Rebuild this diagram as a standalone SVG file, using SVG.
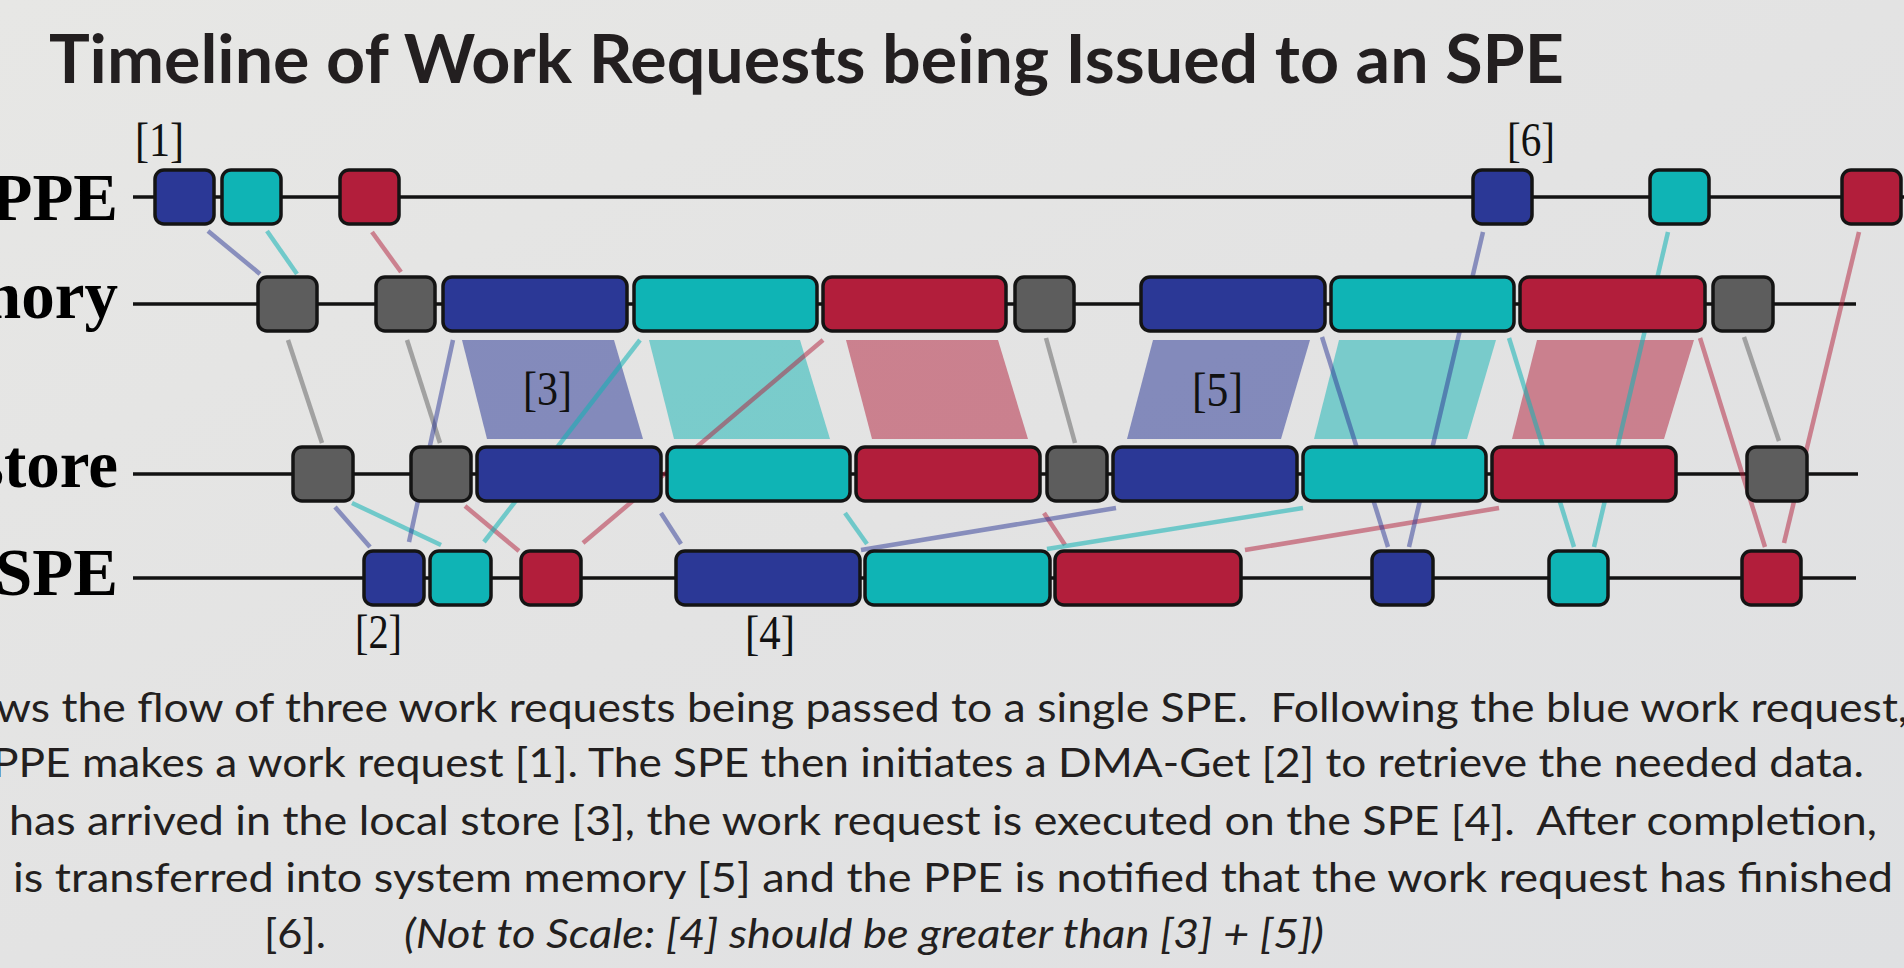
<svg xmlns="http://www.w3.org/2000/svg" width="1904" height="968" viewBox="0 0 1904 968">
<defs>
<linearGradient id="bg" x1="0" y1="0" x2="1" y2="1">
<stop offset="0" stop-color="#e7e7e5"/>
<stop offset="0.5" stop-color="#e3e3e3"/>
<stop offset="1" stop-color="#dfe0e2"/>
</linearGradient>
</defs>
<style>
.row{stroke:#121212;stroke-width:3.5;fill:none}
.bx{stroke:#141414;stroke-width:3.5}
.b{fill:#2b3896}.c{fill:#0fb4b5}.r{fill:#b21e3b}.g{fill:#5d5d5d}
.pb{fill:#2b3896;opacity:.52}.pc{fill:#10b3b4;opacity:.5}.pr{fill:#b11e3a;opacity:.5}
.lb{stroke:#2b3896;stroke-opacity:.5;stroke-width:4.5}
.lc{stroke:#10b3b4;stroke-opacity:.55;stroke-width:4.5}
.lr{stroke:#b11e3a;stroke-opacity:.5;stroke-width:4.5}
.lg{stroke:#5d5d5d;stroke-opacity:.5;stroke-width:4.5}
.rl{font-family:"Liberation Serif","Times New Roman",serif;font-weight:700;font-size:67px;fill:#000;text-anchor:end}
.nl{font-family:"Liberation Serif","Times New Roman",serif;font-size:48px;fill:#111}
.para{font-family:Lato,"Open Sans",sans-serif;font-size:40px;fill:#231f20;white-space:pre}
</style>
<rect x="0" y="0" width="1904" height="968" fill="url(#bg)"/>
<text x="49" y="83" font-family="Lato,'Open Sans',sans-serif" font-weight="700" font-size="67" fill="#231f20" textLength="1515" lengthAdjust="spacingAndGlyphs">Timeline of Work Requests being Issued to an SPE</text>

<g id="row-labels">
<text class="rl" x="118" y="220">PPE</text>
<text class="rl" x="118" y="318">mory</text>
<text class="rl" x="118" y="487">store</text>
<text class="rl" x="118" y="595">SPE</text>
</g>

<g id="timelines">
<line class="row" x1="133" y1="197" x2="1904" y2="197"/>
<line class="row" x1="133" y1="304" x2="1856" y2="304"/>
<line class="row" x1="133" y1="474" x2="1858" y2="474"/>
<line class="row" x1="133" y1="578" x2="1856" y2="578"/>
</g>

<g id="transfers">
<polygon class="pb" points="462,340 614,340 643,439 487,439"/>
<polygon class="pc" points="649,340 800,340 830,439 674,439"/>
<polygon class="pr" points="846,340 998,340 1028,439 872,439"/>
<polygon class="pb" points="1153,340 1310,340 1281,439 1127,439"/>
<polygon class="pc" points="1339,340 1496,340 1467,439 1314,439"/>
<polygon class="pr" points="1537,340 1694,340 1664,439 1512,439"/>
</g>

<g id="connectors">
<line class="lb" x1="208" y1="231" x2="260" y2="274"/>
<line class="lc" x1="267" y1="231" x2="297" y2="274"/>
<line class="lr" x1="372" y1="232" x2="401" y2="272"/>
<line class="lg" x1="288" y1="340" x2="322" y2="443"/>
<line class="lg" x1="407" y1="340" x2="440" y2="443"/>
<line class="lg" x1="1046" y1="338" x2="1075" y2="443"/>
<line class="lg" x1="1744" y1="337" x2="1779" y2="441"/>
<line class="lb" x1="335" y1="507" x2="370" y2="547"/>
<line class="lc" x1="352" y1="503" x2="441" y2="545"/>
<line class="lr" x1="465" y1="506" x2="519" y2="551"/>
<line class="lb" x1="661" y1="513" x2="681" y2="544"/>
<line class="lc" x1="845" y1="513" x2="867" y2="544"/>
<line class="lr" x1="1044" y1="513" x2="1065" y2="545"/>
<line class="lb" x1="409" y1="542" x2="453" y2="340"/>
<line class="lc" x1="484" y1="542" x2="640" y2="340"/>
<line class="lr" x1="583" y1="543" x2="823" y2="340"/>
<line class="lb" x1="861" y1="550" x2="1116" y2="508"/>
<line class="lc" x1="1047" y1="549" x2="1303" y2="508"/>
<line class="lr" x1="1245" y1="550" x2="1499" y2="508"/>
<line class="lb" x1="1322" y1="337" x2="1388" y2="547"/>
<line class="lc" x1="1509" y1="338" x2="1574" y2="547"/>
<line class="lr" x1="1700" y1="338" x2="1765" y2="547"/>
<line class="lb" x1="1483" y1="232" x2="1409" y2="547"/>
<line class="lc" x1="1668" y1="232" x2="1594" y2="547"/>
<line class="lr" x1="1859" y1="232" x2="1784" y2="543"/>
</g>

<g id="ppe-blue-1"><rect class="bx b" x="155" y="170" width="59" height="54" rx="9"/></g>
<g id="ppe-cyan-1"><rect class="bx c" x="222" y="170" width="59" height="54" rx="9"/></g>
<g id="ppe-red-1"><rect class="bx r" x="340" y="170" width="59" height="54" rx="9"/></g>
<g id="ppe-blue-2"><rect class="bx b" x="1473" y="170" width="59" height="54" rx="9"/></g>
<g id="ppe-cyan-2"><rect class="bx c" x="1650" y="170" width="59" height="54" rx="9"/></g>
<g id="ppe-red-2"><rect class="bx r" x="1842" y="170" width="59" height="54" rx="9"/></g>

<g id="mem-gray-1"><rect class="bx g" x="258" y="277" width="59" height="54" rx="9"/></g>
<g id="mem-gray-2"><rect class="bx g" x="376" y="277" width="59" height="54" rx="9"/></g>
<g id="mem-blue-1"><rect class="bx b" x="443" y="277" width="184" height="54" rx="9"/></g>
<g id="mem-cyan-1"><rect class="bx c" x="634" y="277" width="183" height="54" rx="9"/></g>
<g id="mem-red-1"><rect class="bx r" x="823" y="277" width="183" height="54" rx="9"/></g>
<g id="mem-gray-3"><rect class="bx g" x="1015" y="277" width="59" height="54" rx="9"/></g>
<g id="mem-blue-2"><rect class="bx b" x="1141" y="277" width="184" height="54" rx="9"/></g>
<g id="mem-cyan-2"><rect class="bx c" x="1331" y="277" width="183" height="54" rx="9"/></g>
<g id="mem-red-2"><rect class="bx r" x="1520" y="277" width="185" height="54" rx="9"/></g>
<g id="mem-gray-4"><rect class="bx g" x="1713" y="277" width="60" height="54" rx="9"/></g>

<g id="ls-gray-1"><rect class="bx g" x="293" y="447" width="60" height="54" rx="9"/></g>
<g id="ls-gray-2"><rect class="bx g" x="411" y="447" width="60" height="54" rx="9"/></g>
<g id="ls-blue-1"><rect class="bx b" x="477" y="447" width="184" height="54" rx="9"/></g>
<g id="ls-cyan-1"><rect class="bx c" x="667" y="447" width="183" height="54" rx="9"/></g>
<g id="ls-red-1"><rect class="bx r" x="856" y="447" width="184" height="54" rx="9"/></g>
<g id="ls-gray-3"><rect class="bx g" x="1047" y="447" width="60" height="54" rx="9"/></g>
<g id="ls-blue-2"><rect class="bx b" x="1113" y="447" width="184" height="54" rx="9"/></g>
<g id="ls-cyan-2"><rect class="bx c" x="1303" y="447" width="183" height="54" rx="9"/></g>
<g id="ls-red-2"><rect class="bx r" x="1492" y="447" width="184" height="54" rx="9"/></g>
<g id="ls-gray-4"><rect class="bx g" x="1747" y="447" width="60" height="54" rx="9"/></g>

<g id="spe-blue-1"><rect class="bx b" x="364" y="551" width="60" height="54" rx="9"/></g>
<g id="spe-cyan-1"><rect class="bx c" x="430" y="551" width="61" height="54" rx="9"/></g>
<g id="spe-red-1"><rect class="bx r" x="521" y="551" width="60" height="54" rx="9"/></g>
<g id="spe-blue-2"><rect class="bx b" x="676" y="551" width="184" height="54" rx="9"/></g>
<g id="spe-cyan-2"><rect class="bx c" x="865" y="551" width="185" height="54" rx="9"/></g>
<g id="spe-red-2"><rect class="bx r" x="1055" y="551" width="186" height="54" rx="9"/></g>
<g id="spe-blue-3"><rect class="bx b" x="1372" y="551" width="61" height="54" rx="9"/></g>
<g id="spe-cyan-3"><rect class="bx c" x="1549" y="551" width="59" height="54" rx="9"/></g>
<g id="spe-red-3"><rect class="bx r" x="1742" y="551" width="59" height="54" rx="9"/></g>

<g id="step-labels">
<text class="nl" x="135" y="156" textLength="49" lengthAdjust="spacingAndGlyphs">[1]</text>
<text class="nl" x="355" y="648" textLength="47" lengthAdjust="spacingAndGlyphs">[2]</text>
<text class="nl" x="523" y="405" textLength="49" lengthAdjust="spacingAndGlyphs">[3]</text>
<text class="nl" x="745" y="649" textLength="50" lengthAdjust="spacingAndGlyphs">[4]</text>
<text class="nl" x="1192" y="406" textLength="51" lengthAdjust="spacingAndGlyphs">[5]</text>
<text class="nl" x="1507" y="156" textLength="48" lengthAdjust="spacingAndGlyphs">[6]</text>
</g>

<g id="caption">
<text class="para" x="-4" y="722" textLength="1912" lengthAdjust="spacingAndGlyphs">ws the flow of three work requests being passed to a single SPE.  Following the blue work request,</text>
<text class="para" x="-8" y="777" textLength="1872" lengthAdjust="spacingAndGlyphs">PPE makes a work request [1]. The SPE then initiates a DMA-Get [2] to retrieve the needed data.</text>
<text class="para" x="9" y="835" textLength="1868" lengthAdjust="spacingAndGlyphs">has arrived in the local store [3], the work request is executed on the SPE [4].  After completion,</text>
<text class="para" x="13" y="892" textLength="1880" lengthAdjust="spacingAndGlyphs">is transferred into system memory [5] and the PPE is notified that the work request has finished</text>
<text class="para" x="264" y="948" textLength="62" lengthAdjust="spacingAndGlyphs">[6].</text>
<text class="para" x="404" y="948" font-style="italic" textLength="920" lengthAdjust="spacingAndGlyphs">(Not to Scale: [4] should be greater than [3] + [5])</text>
</g>
</svg>
